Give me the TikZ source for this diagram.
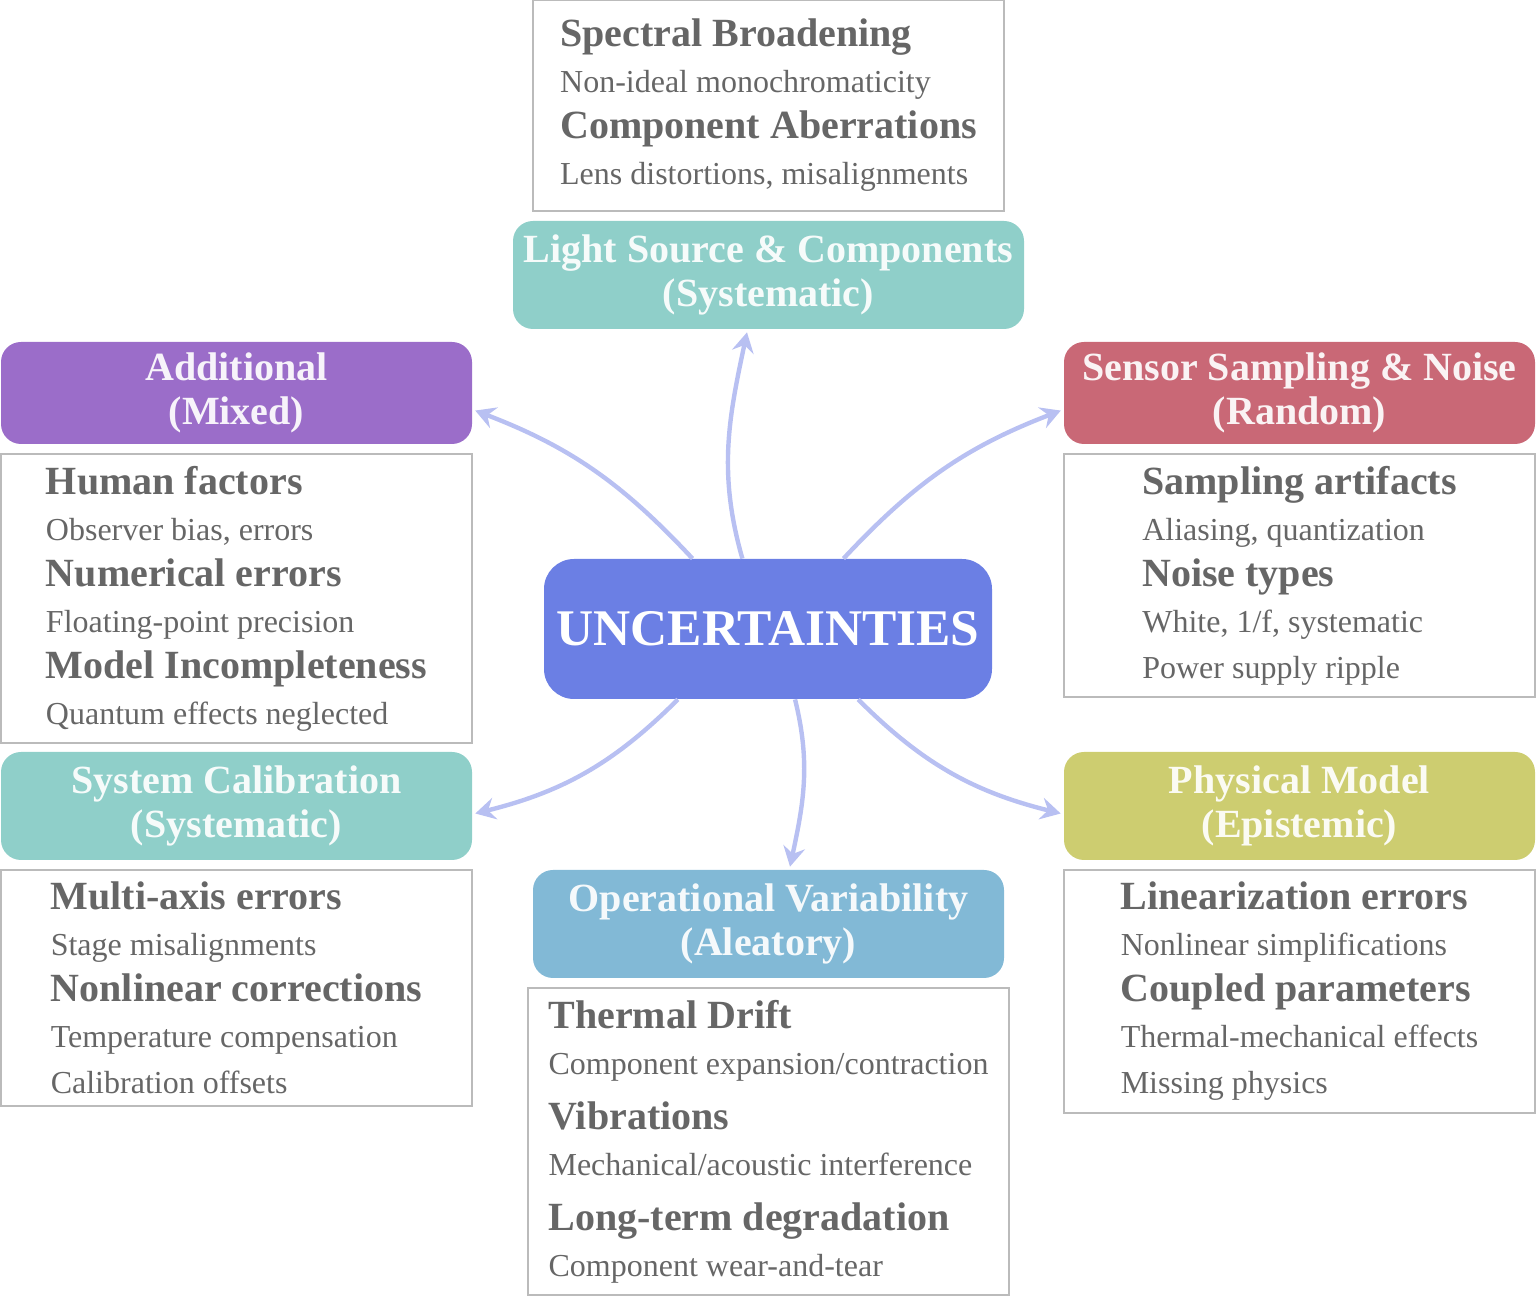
\documentclass[tikz,border=0pt]{standalone}
\usepackage{fontspec}
\setmainfont{Liberation Serif}
\usetikzlibrary{arrows.meta,positioning}

\definecolor{catteal}{HTML}{8FCFC9}
\definecolor{catpurple}{HTML}{9B6DC9}
\definecolor{catred}{HTML}{C96876}
\definecolor{catolive}{HTML}{CDCD70}
\definecolor{catblue}{HTML}{82B9D6}
\definecolor{corefill}{HTML}{6B7FE4}
\definecolor{linkcol}{HTML}{B8C0F2}
\definecolor{itemtext}{HTML}{666666}
\definecolor{itemline}{HTML}{BBBBBB}

\newcommand{\itemhd}[1]{{\fontsize{20}{23}\selectfont\bfseries #1}}

\begin{document}
\begin{tikzpicture}[x=0.5pt,y=0.5pt,>={Stealth[length=10pt,width=11pt,inset=3.5pt]},
  cat/.style={rounded corners=10pt,align=center,text=white,text opacity=0.92,
    font=\fontsize{20}{22}\selectfont\bfseries,minimum width=235.5pt,minimum height=54pt,inner sep=0pt},
  items/.style={draw=itemline,line width=0.75pt,align=left,text=itemtext,
    font=\fontsize{16}{23}\selectfont,minimum width=235.5pt,inner xsep=6.5pt,inner ysep=6pt},
  core/.style={fill=corefill,rounded corners=15pt,text=white,minimum width=224pt,minimum height=70pt,
    font=\fontsize{25.7}{30}\selectfont\bfseries},
  link/.style={->,draw=linkcol,line width=2.2pt,shorten >=1.5pt}]
\useasboundingbox (0,0) rectangle (1537,1296);

\node[core] (unc) at (768,667) {UNCERTAINTIES};

% category headers
\node[cat,fill=catteal,minimum width=255.5pt] (lightsrc) at (768.5,1021) {Light Source \& Components\\(Systematic)};
\node[cat,fill=catpurple,minimum height=51pt] (additional) at (236.5,903) {Additional\\(Mixed)};
\node[cat,fill=catred,minimum height=51pt] (sensor) at (1299.5,903) {Sensor Sampling \& Noise\\(Random)};
\node[cat,fill=catteal] (syscal) at (236.5,490) {System Calibration\\(Systematic)};
\node[cat,fill=catolive] (physmodel) at (1299.5,490) {Physical Model\\(Epistemic)};
\node[cat,fill=catblue] (operational) at (768.5,372) {Operational Variability\\(Aleatory)};

% item lists
\node[items,minimum height=105.5pt,above=4.5pt of lightsrc] (lightitems) {\itemhd{Spectral Broadening}\\Non-ideal monochromaticity\\
  \itemhd{Component Aberrations}\\Lens distortions, misalignments};
\node[items,below=4.5pt of additional] (additems) {\itemhd{Human factors}\\Observer bias, errors\\
  \itemhd{Numerical errors}\\Floating-point precision\\\itemhd{Model Incompleteness}\\Quantum effects neglected};
\node[items,below=4.5pt of sensor] (sensitems) {\itemhd{Sampling artifacts}\\Aliasing, quantization\\
  \itemhd{Noise types}\\White, 1/f, systematic\\Power supply ripple};
\node[items,below=4.5pt of syscal] (calitems) {\itemhd{Multi-axis errors}\\Stage misalignments\\
  \itemhd{Nonlinear corrections}\\Temperature compensation\\Calibration offsets};
\node[items,below=4.5pt of physmodel] (physitems) {\itemhd{Linearization errors}\\Nonlinear simplifications\\
  \itemhd{Coupled parameters}\\Thermal-mechanical effects\\Missing physics};
\node[items,minimum width=240.5pt,below=4.5pt of operational] (opitems) {\itemhd{Thermal Drift}\\Component expansion/contraction\\[4.5pt]
  \itemhd{Vibrations}\\Mechanical/acoustic interference\\[4.5pt]\itemhd{Long-term degradation}\\Component wear-and-tear};

% links from the core
\draw[link] (unc.110) to[out=106,in=-102] (lightsrc.249);
\draw[link] (unc.137) to[out=133,in=-21] (additional.-4);
\draw[link] (unc.43) to[out=47,in=201] (sensor.184);
\draw[link] (unc.218) to[out=225,in=14] (syscal.-2);
\draw[link] (unc.291) to[out=-76,in=78] (operational.69);
\draw[link] (unc.322) to[out=-45,in=166] (physmodel.182);
\end{tikzpicture}
\end{document}
